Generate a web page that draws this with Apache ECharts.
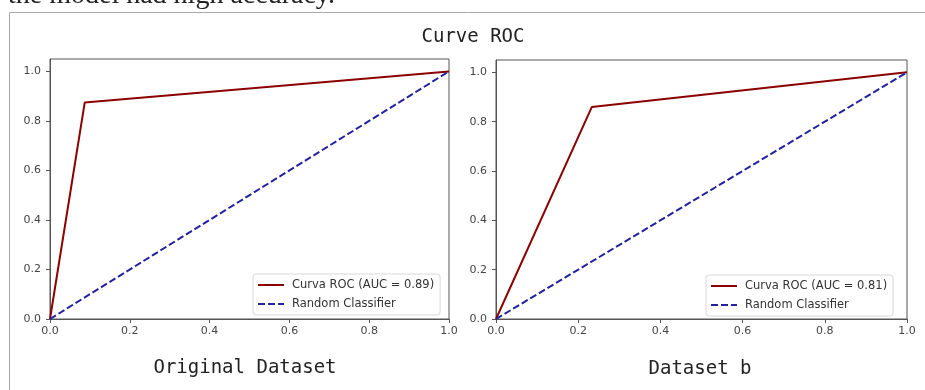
<!DOCTYPE html>
<html>
<head>
<meta charset="utf-8">
<script src="https://cdn.jsdelivr.net/npm/echarts@6/dist/echarts.min.js"></script>
<style>
  html, body { margin: 0; padding: 0; background: #fff; }
  #chart { width: 925px; height: 390px; }
</style>
</head>
<body>
<div id="chart"></div>
<script>
// ROC points
const fprOriginal = [0, 0.087, 1];
const tprOriginal = [0, 0.874, 1];
const fprB = [0, 0.233, 1];
const tprB = [0, 0.859, 1];
const randomX = [0, 1];
const randomY = [0, 1];
const tickValues = [0, 0.2, 0.4, 0.6, 0.8, 1.0];
const labelOriginal = 'Curva ROC (AUC = 0.89)';
const labelB = 'Curva ROC (AUC = 0.81)';
const labelRandom = 'Random Classifier';

const pairs = (xs, ys) => xs.map((x, i) => [x, ys[i]]);

const chart = echarts.init(document.getElementById('chart'));

const axisColor = '#555';
const tickFont = { color: '#444', fontSize: 11, fontFamily: 'DejaVu Sans' };
const mono = '"DejaVu Sans Mono", monospace';

function xAxis(gridIndex) {
  return {
    type: 'value', gridIndex, min: 0, max: 1,
    splitLine: { show: false },
    axisLine: { show: true, lineStyle: { color: axisColor } },
    axisTick: { show: true, length: 4, customValues: tickValues, lineStyle: { color: axisColor } },
    axisLabel: { ...tickFont, margin: 7, customValues: tickValues, formatter: (v) => v.toFixed(1) },
  };
}
function yAxis(gridIndex) {
  return {
    type: 'value', gridIndex, min: 0, max: 1.05,
    splitLine: { show: false },
    axisLine: { show: true, lineStyle: { color: axisColor } },
    axisTick: { show: true, length: 4, customValues: tickValues, lineStyle: { color: axisColor } },
    axisLabel: { ...tickFont, margin: 9, customValues: tickValues, formatter: (v) => v.toFixed(1) },
  };
}
// itemHeight kept tiny so the legend shows only the line sample, no marker
function legend(left, top, names) {
  return {
    data: names, left, top, orient: 'vertical',
    padding: [5, 6, 5, 4], itemGap: 7, itemWidth: 26, itemHeight: 2,
    backgroundColor: 'rgba(255,255,255,0.85)',
    borderColor: '#d8d8d8', borderWidth: 1, borderRadius: 3,
    textStyle: { color: '#333', fontSize: 11.5, fontFamily: 'DejaVu Sans', padding: [0, 0, 0, 3] },
  };
}
function rocSeries(name, data, idx) {
  return {
    name, type: 'line', xAxisIndex: idx, yAxisIndex: idx, data,
    symbol: 'none', lineStyle: { color: '#8b0000', width: 2 }, itemStyle: { color: '#8b0000' },
  };
}
function randSeries(idx) {
  return {
    name: labelRandom, type: 'line', xAxisIndex: idx, yAxisIndex: idx,
    data: pairs(randomX, randomY),
    symbol: 'none', lineStyle: { color: '#2222a0', width: 2, type: [7, 3] }, itemStyle: { color: '#2222a0' },
  };
}

chart.setOption({
  animation: false,
  grid: [
    { left: 50, top: 59, width: 399, height: 260, show: true, borderColor: axisColor, borderWidth: 1 },
    { left: 496, top: 60, width: 411, height: 259, show: true, borderColor: axisColor, borderWidth: 1 },
  ],
  xAxis: [xAxis(0), xAxis(1)],
  yAxis: [yAxis(0), yAxis(1)],
  legend: [
    legend(253, 274, [labelOriginal, labelRandom]),
    legend(706, 275, [labelB, labelRandom]),
  ],
  series: [
    rocSeries(labelOriginal, pairs(fprOriginal, tprOriginal), 0),
    randSeries(0),
    rocSeries(labelB, pairs(fprB, tprB), 1),
    randSeries(1),
  ],
  graphic: [
    { type: 'text', left: 8, top: -18, style: { text: 'the model had high accuracy.', font: '28px "Liberation Serif", serif', fill: '#222' } },
    { type: 'line', shape: { x1: 9.5, y1: 12.5, x2: 925, y2: 12.5 }, style: { stroke: '#aaa', lineWidth: 1 } },
    { type: 'line', shape: { x1: 9.5, y1: 12.5, x2: 9.5, y2: 390 }, style: { stroke: '#aaa', lineWidth: 1 } },
    { type: 'text', x: 473, y: 37, style: { text: 'Curve ROC', font: '19px ' + mono, fill: '#222', align: 'center', verticalAlign: 'middle' } },
    { type: 'text', x: 245, y: 368, style: { text: 'Original Dataset', font: '19px ' + mono, fill: '#222', align: 'center', verticalAlign: 'middle' } },
    { type: 'text', x: 700, y: 369, style: { text: 'Dataset b', font: '19px ' + mono, fill: '#222', align: 'center', verticalAlign: 'middle' } },
  ],
});
</script>
</body>
</html>
